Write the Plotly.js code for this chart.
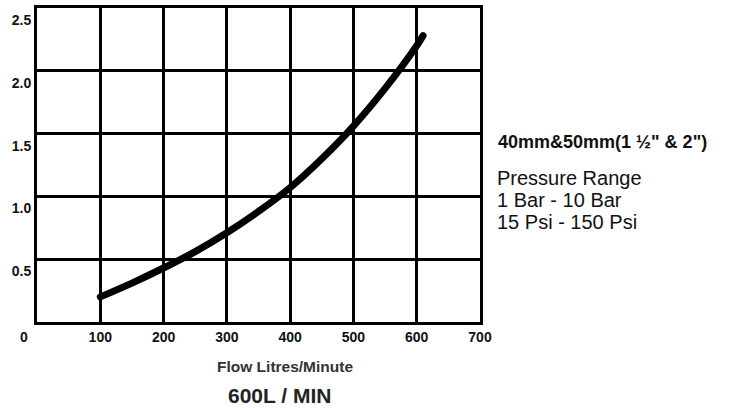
<!DOCTYPE html>
<html>
<head>
<meta charset="utf-8">
<script src="https://cdn.plot.ly/plotly-3.0.1.min.js"></script>
<style>
html,body{margin:0;padding:0;background:#fff;}
#chart{width:731px;height:409px;}
.scatterlayer path.js-line{stroke-linecap:round;stroke-linejoin:round;}
</style>
</head>
<body>
<div id="chart"></div>
<script>
// Data
var flow = [100, 150, 200, 250, 300, 350, 400, 450, 500, 550, 600, 610];
var pressure = [0.2, 0.31, 0.43, 0.56, 0.71, 0.88, 1.07, 1.30, 1.56, 1.86, 2.20, 2.28];
var xTickVals = [100, 200, 300, 400, 500, 600, 700];
var xTickText = ['100', '200', '300', '400', '500', '600', '700'];
var yTickVals = [0.5, 1.0, 1.5, 2.0, 2.5];
var yTickText = ['0.5', '1.0', '1.5', '2.0', '2.5'];
var originLabel = '0';
var xTitle = 'Flow Litres/Minute';
var subTitle = '600L / MIN';
var sizeLabel = '40mm&50mm(1 ½" & 2")';
var rangeLines = ['Pressure Range', '1 Bar - 10 Bar', '15 Psi - 150 Psi'];

var FONT = 'Liberation Sans, Arial, Helvetica, sans-serif';
var trace = {
  x: flow, y: pressure, type: 'scatter', mode: 'lines',
  line: {color: '#000', width: 7, shape: 'spline', smoothing: 1},
  hoverinfo: 'skip'
};

var annotations = [
  {xref: 'x', yref: 'paper', x: 0, y: 0, xshift: -13, yshift: -15, text: originLabel, showarrow: false,
   font: {family: FONT, size: 14, color: '#111', weight: 'bold'}, xanchor: 'center', yanchor: 'middle'},
  {xref: 'paper', yref: 'paper', x: 0.559, y: 0, yshift: -44, text: xTitle, showarrow: false,
   font: {family: FONT, size: 15.5, color: '#333', weight: 'bold'}, xanchor: 'center', yanchor: 'middle'},
  {xref: 'paper', yref: 'paper', x: 0.548, y: 0, yshift: -73, text: subTitle, showarrow: false,
   font: {family: FONT, size: 21, color: '#222', weight: 'bold'}, xanchor: 'center', yanchor: 'middle'},
  {xref: 'paper', yref: 'paper', x: 1, xshift: 16, y: 1, yshift: -134, text: sizeLabel, showarrow: false,
   font: {family: FONT, size: 18, color: '#111', weight: 'bold'}, xanchor: 'left', yanchor: 'middle'}
];
rangeLines.forEach(function(t, i){
  annotations.push({xref: 'paper', yref: 'paper', x: 1, xshift: 15, y: 1, yshift: -170 - 22 * i, text: t, showarrow: false,
    font: {family: FONT, size: 20, color: '#111'}, xanchor: 'left', yanchor: 'middle'});
});

var layout = {
  width: 731, height: 409,
  margin: {l: 37, r: 251, t: 8, b: 87, pad: 0},
  paper_bgcolor: '#fff', plot_bgcolor: '#fff',
  showlegend: false,
  font: {family: FONT},
  xaxis: {
    range: [0, 700], tickmode: 'array', tickvals: xTickVals, ticktext: xTickText,
    showgrid: true, gridcolor: '#000', gridwidth: 3, zeroline: false,
    showline: true, linecolor: '#000', linewidth: 3, mirror: true, ticks: '',
    tickfont: {family: FONT, size: 14, color: '#111', weight: 'bold'}, fixedrange: true
  },
  yaxis: {
    range: [0, 2.5], tickmode: 'array', tickvals: yTickVals, ticktext: yTickText,
    showgrid: true, gridcolor: '#000', gridwidth: 3, zeroline: false,
    showline: true, linecolor: '#000', linewidth: 3, mirror: true, ticks: '',
    ticklabelshift: 12,
    tickfont: {family: FONT, size: 14, color: '#111', weight: 'bold'}, fixedrange: true
  },
  annotations: annotations
};

Plotly.newPlot('chart', [trace], layout, {displayModeBar: false, staticPlot: true});
</script>
</body>
</html>
